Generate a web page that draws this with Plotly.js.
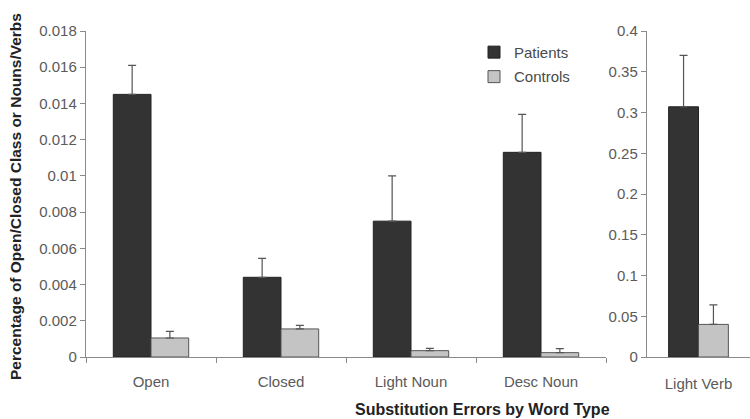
<!DOCTYPE html>
<html>
<head>
<meta charset="utf-8">
<script src="https://cdn.plot.ly/plotly-3.0.1.min.js"></script>
<style>html,body{margin:0;padding:0;background:#fff;}#chart{width:750px;height:419px;}</style>
</head>
<body>
<div id="chart"></div>
<script>
// Left panel data
const categories = ["Open", "Closed", "Light Noun", "Desc Noun"];
const patients = [0.0145, 0.0044, 0.0075, 0.0113];
const patientsErr = [0.0016, 0.00105, 0.0025, 0.0021];
const controls = [0.00105, 0.00155, 0.00035, 0.00024];
const controlsErr = [0.00037, 0.0002, 0.00013, 0.00022];

// Right panel data
const categoriesRight = ["Light Verb"];
const patientsRight = [0.307];
const patientsRightErr = [0.063];
const controlsRight = [0.040];
const controlsRightErr = [0.024];

// Tick labels
const leftTickVals = [0, 0.002, 0.004, 0.006, 0.008, 0.01, 0.012, 0.014, 0.016, 0.018];
const leftTickText = ["0", "0.002", "0.004", "0.006", "0.008", "0.01", "0.012", "0.014", "0.016", "0.018"];
const rightTickVals = [0, 0.05, 0.1, 0.15, 0.2, 0.25, 0.3, 0.35, 0.4];
const rightTickText = ["0", "0.05", "0.1", "0.15", "0.2", "0.25", "0.3", "0.35", "0.4"];

const darkFill = "#333333";
const lightFill = "#c4c4c4";
const zeros = a => a.map(() => 0);

function errY(arr, col) {
  return {type: "data", symmetric: false, array: arr, arrayminus: zeros(arr), color: col, thickness: 1.2, width: 4};
}

const traces = [
  {type: "bar", name: "Patients", legendgroup: "p", x: categories, y: patients, xaxis: "x", yaxis: "y",
   marker: {color: darkFill, line: {color: "#222", width: 1}}, error_y: errY(patientsErr, "#555")},
  {type: "bar", name: "Controls", legendgroup: "c", x: categories, y: controls, xaxis: "x", yaxis: "y",
   marker: {color: lightFill, line: {color: "#555", width: 1}}, error_y: errY(controlsErr, "#555")},
  {type: "bar", name: "Patients", legendgroup: "p", showlegend: false, x: categoriesRight, y: patientsRight, xaxis: "x2", yaxis: "y2",
   marker: {color: darkFill, line: {color: "#222", width: 1}}, error_y: errY(patientsRightErr, "#555")},
  {type: "bar", name: "Controls", legendgroup: "c", showlegend: false, x: categoriesRight, y: controlsRight, xaxis: "x2", yaxis: "y2",
   marker: {color: lightFill, line: {color: "#555", width: 1}}, error_y: errY(controlsRightErr, "#555")}
];

const axisFont = {family: "Liberation Sans, Arial, sans-serif", size: 15, color: "#5a5a5a"};
const lineCol = "#8a8a8a";

const layout = {
  width: 750, height: 419,
  margin: {l: 0, r: 0, t: 31, b: 62},
  paper_bgcolor: "#fff", plot_bgcolor: "rgba(0,0,0,0)",
  barmode: "group", bargap: 0.42, bargroupgap: 0,
  showlegend: true,
  legend: {x: 0.632, y: 0.985, xanchor: "left", yanchor: "top", bgcolor: "rgba(0,0,0,0)",
           font: {family: "Liberation Sans, Arial, sans-serif", size: 15, color: "#4a4a4a"}, tracegroupgap: 2},
  xaxis: {domain: [86/750, 606/750], showline: true, linecolor: lineCol, linewidth: 1.2, ticks: "outside",
          tickson: "boundaries", ticklen: 5, tickcolor: lineCol, tickfont: axisFont, ticklabelstandoff: 11,
          showgrid: false, zeroline: false, fixedrange: true},
  yaxis: {domain: [0, 1], range: [0, 0.018], tickmode: "array", tickvals: leftTickVals, ticktext: leftTickText,
          showline: true, linecolor: lineCol, linewidth: 1.2, ticks: "outside", ticklen: 5, tickcolor: lineCol,
          tickfont: axisFont, showgrid: false, zeroline: false, fixedrange: true},
  xaxis2: {domain: [647/750, 1], anchor: "y2", showline: true, linecolor: lineCol, linewidth: 1.2, ticks: "",
           tickfont: axisFont, ticklabelstandoff: 13, showgrid: false, zeroline: false, fixedrange: true},
  yaxis2: {domain: [0, 1], anchor: "x2", range: [0, 0.4], tickmode: "array", tickvals: rightTickVals, ticktext: rightTickText,
           showline: true, linecolor: lineCol, linewidth: 1.2, ticks: "outside", ticklen: 5, tickcolor: lineCol,
           tickfont: axisFont, showgrid: false, zeroline: false, fixedrange: true},
  annotations: [
    {text: "<b>Substitution Errors by Word Type</b>", xref: "paper", yref: "paper", x: 482/750, y: -(409-357)/326,
     xanchor: "center", yanchor: "middle", showarrow: false,
     font: {family: "Liberation Sans, Arial, sans-serif", size: 16, color: "#222"}},
    {text: "<b>Percentage of Open/Closed Class or Nouns/Verbs</b>", xref: "paper", yref: "paper", x: 16/750, y: (357-197)/326,
     xanchor: "center", yanchor: "middle", textangle: -90, showarrow: false,
     font: {family: "Liberation Sans, Arial, sans-serif", size: 15.5, color: "#222"}}
  ]
};

Plotly.newPlot("chart", traces, layout, {displayModeBar: false, staticPlot: true});
</script>
</body>
</html>
